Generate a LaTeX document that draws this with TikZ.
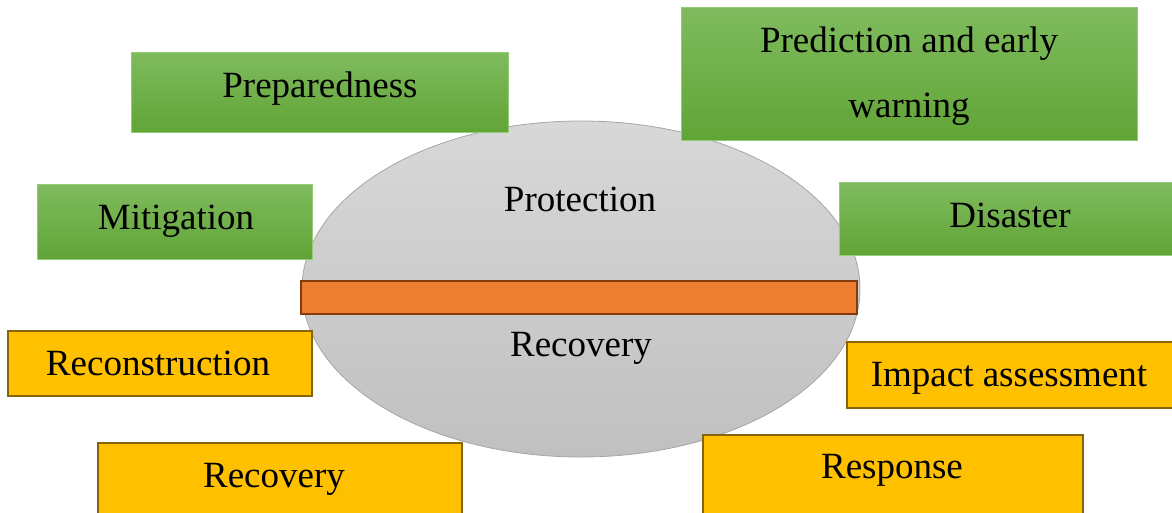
\documentclass[tikz,border=0pt]{standalone}
\usepackage{fontspec}
\setmainfont{Liberation Serif}
\usetikzlibrary{shapes.geometric}
\definecolor{gtop}{RGB}{127,187,94}
\definecolor{gbot}{RGB}{97,164,54}
\definecolor{gline}{RGB}{146,204,116}
\definecolor{yfill}{RGB}{255,192,0}
\definecolor{yline}{RGB}{133,100,10}
\definecolor{ofill}{RGB}{237,125,49}
\definecolor{oline}{RGB}{132,60,12}
\definecolor{etop}{RGB}{216,216,216}
\definecolor{ebot}{RGB}{192,192,192}
\definecolor{eline}{RGB}{166,166,166}
\begin{document}
\begin{tikzpicture}[x=1pt,y=-1pt,
  greenbox/.style={rectangle, anchor=north west, inner sep=0pt, draw=gline, line width=1pt, top color=gtop, bottom color=gbot},
  yellowbox/.style={rectangle, anchor=north west, inner sep=0pt, draw=yline, line width=1.8pt, fill=yfill},
  barbox/.style={rectangle, anchor=north west, inner sep=0pt, draw=oline, line width=1.8pt, fill=ofill},
  ellbox/.style={ellipse, inner sep=0pt, draw=eline, line width=0.8pt, top color=etop, bottom color=ebot},
  lbl/.style={anchor=base, inner sep=0pt, font=\fontsize{37}{65}\selectfont, text=black, align=center}]
\useasboundingbox (0,0) rectangle (1172,512);
\clip (0,0) rectangle (1172,512);
% central ellipse
\node[ellbox, minimum width=558pt, minimum height=336pt] (ell) at (581,289) {};
% green boxes
\node[greenbox, minimum width=377pt, minimum height=80pt] (prep) at (131,52) {};
\node[greenbox, minimum width=456pt, minimum height=133pt] (pred) at (681,7) {};
\node[greenbox, minimum width=275pt, minimum height=75pt] (miti) at (37,184) {};
\node[greenbox, minimum width=340pt, minimum height=73pt] (disa) at (839,182) {};
% bar
\node[barbox, minimum width=556pt, minimum height=33pt] (bar) at (300,280) {};
% yellow boxes
\node[yellowbox, minimum width=304pt, minimum height=65pt] (reco) at (7,330) {};
\node[yellowbox, minimum width=340pt, minimum height=66pt] (impa) at (846,341) {};
\node[yellowbox, minimum width=364pt, minimum height=80pt] (recb) at (97,442) {};
\node[yellowbox, minimum width=380pt, minimum height=90pt] (resp) at (702,434) {};
% labels
\node[lbl] (tprep) at (320,97) {Preparedness};
\node[lbl] (tpred1) at (909,52) {Prediction and early};
\node[lbl] (tpred2) at (909,117) {warning};
\node[lbl] (tmiti) at (176,229) {Mitigation};
\node[lbl] (tdisa) at (1010,227) {Disaster};
\node[lbl] (tprot) at (580,211) {Protection};
\node[lbl] (trecv) at (581,356) {Recovery};
\node[lbl] (treco) at (158,375) {Reconstruction};
\node[lbl] (timpa) at (1009,386) {Impact assessment};
\node[lbl] (trecb) at (274,487) {Recovery};
\node[lbl] (tresp) at (892,478) {Response};
\end{tikzpicture}
\end{document}
